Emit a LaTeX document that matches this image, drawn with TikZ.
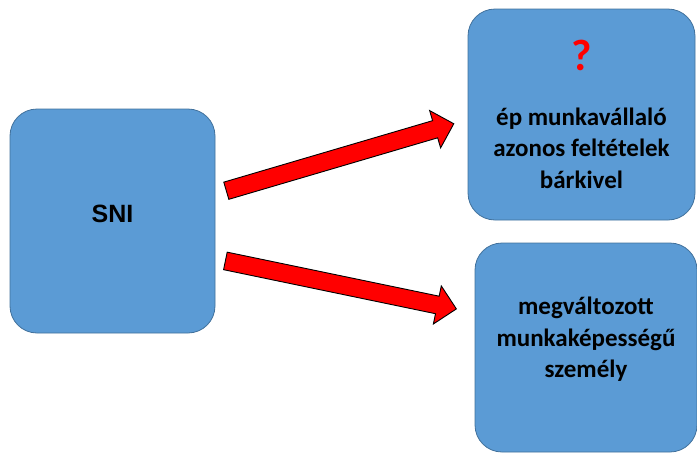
\documentclass[tikz,border=0pt]{standalone}
\usepackage{fontspec}
\setmainfont{Carlito}
\newfontfamily\arialfont{Liberation Sans}
\usetikzlibrary{shapes.arrows,calc}

\definecolor{boxblue}{RGB}{91,155,213}
\definecolor{boxline}{RGB}{65,113,156}

\tikzset{
    box/.style={draw=boxline, fill=boxblue, line width=0.8pt, rounded corners=27pt,
        align=center, inner sep=0pt, font=\bfseries\fontsize{25}{31.5}\selectfont},
    redarrow/.style={single arrow, draw=black, fill=red, line width=0.9pt,
        inner xsep=0pt, inner ysep=8.5pt, minimum width=0pt,
        single arrow head extend=10.5pt},
}

\newcommand{\blockarrow}[3]{%
    \path let \p1=($(#3)-(#2)$), \n1={atan2(\y1,\x1)}, \n2={veclen(\x1,\y1)} in
        node[redarrow, rotate=\n1, minimum height=\n2] (#1) at ($(#2)!0.5!(#3)$) {};}

\begin{document}
\begin{tikzpicture}[x=1pt, y=-1pt]
        \useasboundingbox (0,0) rectangle (697,453);

        \node[box, minimum width=205pt, minimum height=224pt, text depth=14pt] (sni) at (112.5,221)
            {\arialfont\fontsize{25}{30}\selectfont SNI};

        \node[box, minimum width=227pt, minimum height=211pt] (ep) at (581.5,114.5)
            {{\color{red}\fontsize{44}{44}\selectfont ?}\\[23pt]
             ép munkavállaló\\ azonos feltételek\\ bárkivel};

        \node[box, minimum width=222pt, minimum height=209pt, text depth=20pt] (mvsz) at (586,347.5)
            {megváltozott\\ munkaképességű\\ személy};

        \coordinate (uptail) at (222,192);
        \coordinate (uptip) at (449.5,125);
        \coordinate (downtail) at (221,260);
        \coordinate (downtip) at (452,308);

        \blockarrow{uparrow}{uptail}{uptip}
        \blockarrow{downarrow}{downtail}{downtip}

    \end{tikzpicture}
\end{document}
